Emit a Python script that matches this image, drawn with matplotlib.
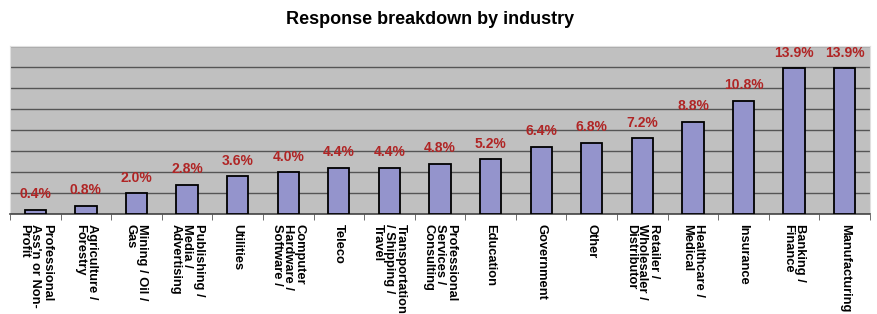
import numpy as np
import matplotlib.pyplot as plt

plt.rcParams['font.family'] = ['Liberation Sans', 'DejaVu Sans']

industries = ["Professional\nAss'n or Non-\nProfit", "Agriculture /\nForestry", "Mining / Oil /\nGas",
              "Publishing /\nMedia /\nAdvertising", "Utilities", "Computer\nHardware /\nSoftware /",
              "Teleco", "Transportation\n/ Shipping /\nTravel", "Professional\nServices /\nConsulting",
              "Education", "Government", "Other", "Retailer /\nWholesaler /\nDistributor",
              "Healthcare /\nMedical", "Insurance", "Banking /\nFinance", "Manufacturing"]
share = [0.4, 0.8, 2.0, 2.8, 3.6, 4.0, 4.4, 4.4, 4.8, 5.2, 6.4, 6.8, 7.2, 8.8, 10.8, 13.9, 13.9]

fig = plt.figure(figsize=(8.77, 3.14), dpi=100)
ax = fig.add_axes([10/877, 100/314, 860/877, 168/314])
ax.set_facecolor('#C0C0C0')

x = np.arange(len(share))
ax.bar(x, share, width=0.42, color='#9494CC', edgecolor='black', linewidth=1.3, zorder=3)
for xi, v in zip(x, share):
    ax.annotate(f"{v:.1f}%", (xi, v), xytext=(0, 6), textcoords='offset points',
                ha='center', va='bottom', fontsize=10, fontweight='bold', color='#B02525')

ax.set_xlim(-0.5, len(share) - 0.5)
ax.set_ylim(0, 16)
ax.set_yticks(np.arange(0, 17, 2))
ax.yaxis.grid(True, color='#555555', linewidth=1, zorder=0)
ax.tick_params(axis='y', left=False, labelleft=False)

ax.set_xticks(x)
ax.set_xticklabels(industries, rotation=270, fontsize=9.3, fontweight='bold',
                   ha='center', va='top', multialignment='left', linespacing=0.95)
ax.set_xticks(np.arange(-0.5, len(share), 1), minor=True)
ax.tick_params(axis='x', which='major', length=0, pad=7)
ax.tick_params(axis='x', which='minor', length=4, color='#555555')

for s in ['left', 'right', 'top']:
    ax.spines[s].set_color('#E0E0E0')
ax.spines['bottom'].set_color('#444444')
ax.spines['bottom'].set_linewidth(1.2)

fig.text(0.49, 1 - 19/314, "Response breakdown by industry", ha='center', va='center',
         fontsize=13, fontweight='bold')

fig.savefig('out.png', dpi=100)
